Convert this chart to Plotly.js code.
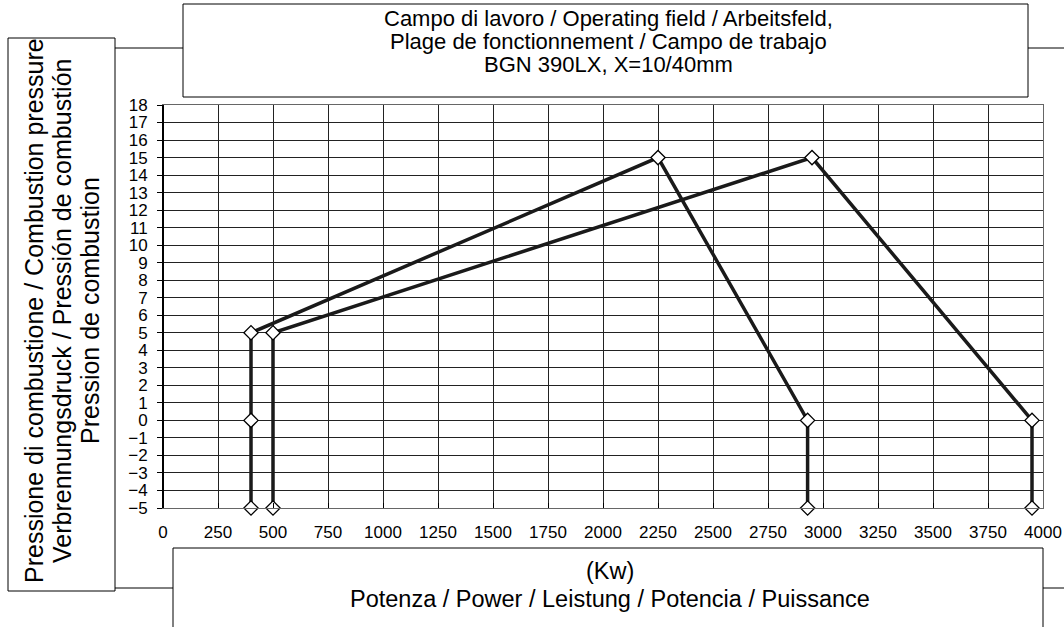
<!DOCTYPE html>
<html>
<head>
<meta charset="utf-8">
<script src="https://cdn.plot.ly/plotly-3.0.1.min.js"></script>
<style>
  html, body { margin: 0; padding: 0; background: #fff; }
  #chart { width: 1064px; height: 627px; }
</style>
</head>
<body>
<div id="chart"></div>
<script>
// field limits, X=10 mm and X=40 mm
const powerA = [400, 400, 400, 2250, 2930, 2930];
const pressureA = [-5, 0, 5, 15, 0, -5];
const powerB = [500, 500, 2950, 3950, 3950];
const pressureB = [-5, 5, 15, 0, -5];

const titleLines = [
    "Campo di lavoro / Operating field / Arbeitsfeld,",
    "Plage de fonctionnement / Campo de trabajo",
    "BGN 390LX, X=10/40mm",
];
const yTitleLines = [
    "Pressione di combustione / Combustion pressure",
    "Verbrennungsdruck / Pressión de combustión",
    "Pression de combustion",
];
const xTitleLines = [
    "(Kw)",
    "Potenza / Power / Leistung / Potencia / Puissance",
];

const W = 1064, H = 627;
const M = { l: 163, r: 21, t: 105, b: 119 };
// pixel -> paper
const px = (x) => (x - M.l) / (W - M.l - M.r);
const py = (y) => (H - M.b - y) / (H - M.t - M.b);

function box(x0, y0, x1, y1) {
    return {
        type: 'rect', xref: 'paper', yref: 'paper', layer: 'above',
        x0: px(x0), x1: px(x1), y0: py(y1), y1: py(y0),
        line: { color: '#000', width: 1 }, fillcolor: '#fff',
    };
}
function seg(x0, y0, x1, y1, w, c) {
    return {
        type: 'line', xref: 'paper', yref: 'paper', layer: 'above',
        x0: px(x0), x1: px(x1), y0: py(y0), y1: py(y1),
        line: { color: c || '#000', width: w || 1 },
    };
}

const shapes = [
    box(183, 4, 1028, 97),
    box(8, 38, 115, 591),
    box(173, 548, 1043, 640),
    seg(115, 48, 183, 48),
    seg(1028, 48, 1064, 48),
    seg(115, 588, 173, 588),
    seg(1043, 588, 1064, 588),
    // thick left axis
    seg(163, 105, 163, 508, 2),
];

const fam = 'Liberation Sans, Arial, sans-serif';
const annotations = [];
titleLines.forEach((t, i) => {
    annotations.push({
        xref: 'paper', yref: 'paper', x: px(608), y: py(18 + i * 23),
        text: t, showarrow: false, font: { family: fam, size: 22, color: '#000' },
        xanchor: 'center', yanchor: 'middle',
    });
});
yTitleLines.forEach((t, i) => {
    annotations.push({
        xref: 'paper', yref: 'paper', x: px(34 + i * 28), y: py(311),
        text: t, showarrow: false, font: { family: fam, size: 25, color: '#000' },
        textangle: -90, xanchor: 'center', yanchor: 'middle',
    });
});
xTitleLines.forEach((t, i) => {
    annotations.push({
        xref: 'paper', yref: 'paper', x: px(610), y: py(571 + i * 28),
        text: t, showarrow: false, font: { family: fam, size: 23.5, color: '#000' },
        xanchor: 'center', yanchor: 'middle',
    });
});

const lineStyle = { color: '#1a1a1a', width: 3.5 };
const markerStyle = {
    symbol: 'diamond', size: 11, color: '#fff',
    line: { color: '#000', width: 1.3 },
};

const data = [
    {
        x: powerA, y: pressureA,
        mode: 'lines+markers', name: 'X=10mm',
        line: lineStyle, marker: markerStyle, cliponaxis: false,
    },
    {
        x: powerB, y: pressureB,
        mode: 'lines+markers', name: 'X=40mm',
        line: lineStyle, marker: markerStyle, cliponaxis: false,
    },
];

const tickFont = { family: fam, size: 17, color: '#000' };

const layout = {
    width: W,
    height: H,
    margin: M,
    showlegend: false,
    paper_bgcolor: '#fff',
    plot_bgcolor: '#fff',
    xaxis: {
        range: [0, 4000],
        tick0: 0,
        dtick: 250,
        showgrid: true,
        gridcolor: '#222',
        gridwidth: 1,
        zeroline: false,
        showline: true,
        mirror: true,
        linecolor: '#666',
        linewidth: 1,
        ticks: 'inside',
        ticklen: 5,
        tickcolor: '#000',
        tickfont: tickFont,
        ticklabelstandoff: 9,
    },
    yaxis: {
        range: [-5, 18],
        tick0: -5,
        dtick: 1,
        showgrid: true,
        gridcolor: '#222',
        gridwidth: 1,
        zeroline: false,
        showline: true,
        mirror: true,
        linecolor: '#666',
        linewidth: 1,
        ticks: 'outside',
        ticklen: 5,
        tickcolor: '#000',
        tickfont: tickFont,
        ticklabelstandoff: 6,
    },
    shapes: shapes,
    annotations: annotations,
};

Plotly.newPlot('chart', data, layout, { staticPlot: true });
</script>
</body>
</html>
